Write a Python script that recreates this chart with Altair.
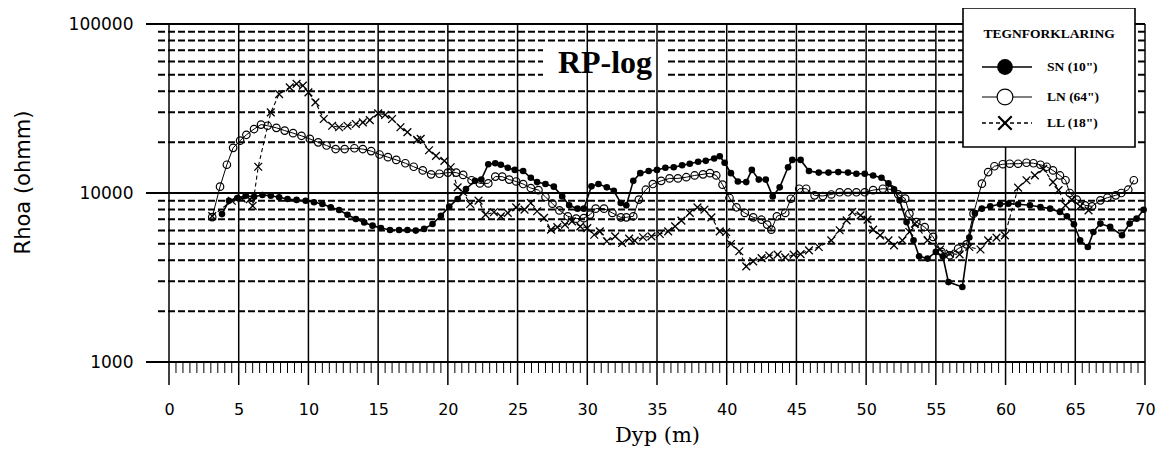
import altair as alt
import pandas as pd

W, H = 976, 338

# ---------------- data ----------------
sn_depth = [3.8, 4.3, 4.9, 5.5, 6.1, 6.7, 7.3, 7.9, 8.5, 9.15, 9.8, 10.4, 11.0, 11.6, 12.2, 12.8,
            13.4, 14.0, 14.6, 15.2, 15.85, 16.5, 17.1, 17.7, 18.3, 18.9, 19.5, 20.1, 20.7, 21.3,
            21.95, 22.4, 22.9, 23.4, 23.8, 24.3, 24.8, 25.4, 25.95, 26.4, 27.0, 27.6, 28.2, 28.7,
            29.3, 29.75, 30.3, 30.8, 31.4, 31.9, 32.4, 32.8, 33.3, 33.8, 34.4, 35.0, 35.6, 36.2,
            36.8, 37.35, 37.95, 38.5, 39.1, 39.5, 39.85, 40.3, 40.8, 41.4, 41.8, 42.3, 42.8, 43.3,
            43.8, 44.4, 44.7, 45.3, 45.9, 46.6, 47.3, 48.0, 48.7, 49.3, 49.9, 50.5, 51.1, 51.6,
            52.0, 52.4, 52.9, 53.4, 53.8, 54.4, 55.0, 55.5, 55.9, 56.9, 57.4, 57.8, 58.3, 58.9,
            59.6, 60.2, 60.9, 61.75, 62.5, 63.2, 63.9, 64.4, 64.9, 65.35, 65.9, 66.3, 66.8, 67.5,
            68.35, 68.9, 69.4, 69.9]
sn_rhoa = [7500, 9000, 9340, 9640, 9500, 9730, 9640, 9430, 9220, 9100, 9000, 8810, 8610, 8230,
           7930, 7440, 7020, 6700, 6410, 6210, 6040, 6040, 6040, 5990, 6130, 6560, 7340, 8300,
           9220, 10560, 11800, 12000, 14800, 15000, 14700, 14100, 13700, 13500, 12300, 11600,
           11300, 10900, 9550, 8450, 8080, 8080, 10950, 11300, 10800, 10300, 8730, 8450, 11800,
           13100, 13500, 13700, 14100, 14200, 14600, 14900, 15300, 15500, 16000, 16500, 15100,
           13100, 11700, 11600, 13700, 12000, 12000, 9550, 10800, 14200, 15700, 15700, 13500,
           13200, 13200, 13300, 13200, 13000, 13000, 12700, 12300, 11400, 10500, 9050, 6730,
           5250, 4220, 4090, 4480, 4220, 2970, 2780, 5450, 7620, 8080, 8340, 8570, 8650, 8570,
           8460, 8260, 8080, 7730, 7280, 6530, 5250, 4790, 5880, 6590, 6300, 5620, 6590, 7050,
           7960]

ln_depth = [3.1, 3.66, 4.15, 4.6, 5.1, 5.55, 6.1, 6.6, 7.07, 7.7, 8.3, 8.9, 9.5, 10.1, 10.7,
            11.3, 11.95, 12.6, 13.3, 13.9, 14.5, 15.1, 15.7, 16.3, 16.95, 17.55, 18.2, 18.8,
            19.4, 20.0, 20.6, 21.1, 21.7, 22.3, 22.9, 23.4, 23.9, 24.4, 24.9, 25.4, 25.95, 26.5,
            27.0, 27.5, 28.0, 28.6, 29.2, 29.75, 30.2, 30.6, 31.2, 31.8, 32.4, 32.8, 33.3, 33.7,
            34.2, 34.7, 35.3, 35.9, 36.5, 37.1, 37.7, 38.3, 38.8, 39.25, 39.7, 40.2, 40.7, 41.3,
            41.9, 42.5, 42.9, 43.2, 43.6, 44.2, 44.6, 45.2, 45.7, 46.3, 46.9, 47.5, 48.1, 48.7,
            49.3, 49.9, 50.5, 51.2, 51.8, 52.3, 52.8, 53.1, 53.6, 54.2, 54.8, 55.4, 56.0, 56.6,
            57.2, 57.7, 58.3, 58.75, 59.2, 59.8, 60.3, 60.9, 61.5, 62.0, 62.5, 62.95, 63.4,
            63.9, 64.3, 64.6, 65.1, 65.7, 66.2, 66.8, 67.3, 67.9, 68.3, 68.8, 69.2]
ln_rhoa = [7200, 10900, 14700, 18500, 20400, 22100, 23900, 25400, 25000, 24300, 23400, 22600,
           21800, 20900, 19950, 19100, 18200, 18200, 18400, 18200, 17700, 16900, 16300, 15700,
           15000, 14300, 13600, 12900, 13000, 13200, 13200, 12800, 11900, 11400, 11400, 12500,
           12500, 12000, 11700, 11300, 10700, 10400, 9470, 8650, 7890, 7280, 7050, 7100, 7450,
           8080, 8080, 7620, 7180, 7180, 7280, 9140, 10460, 11300, 11800, 12200, 12200, 12400,
           12700, 12900, 13100, 12700, 11200, 9340, 8230, 7620, 7180, 6950, 6500, 6070, 7280,
           7620, 9250, 10600, 10600, 9690, 9600, 9800, 10100, 10100, 10100, 10100, 10400, 10600,
           10500, 9820, 9260, 7550, 6730, 6290, 5500, 4480, 4280, 4690, 4970, 7550, 11360,
           13300, 14400, 14800, 14900, 14900, 15100, 15000, 14700, 14300, 13600, 12700, 11900,
           10000, 9140, 8450, 8340, 9050, 9380, 9690, 10000, 10460, 11900]

ll_depth = [3.1, 4.5, 5.2, 5.8, 6.0, 6.4, 7.3, 7.9, 8.66, 9.15, 9.6, 10.0, 10.5, 11.1, 11.7,
            12.2, 12.8, 13.4, 13.9, 14.4, 15.0, 15.5, 16.0, 16.6, 17.1, 17.8, 18.05, 18.65,
            19.15, 19.75, 20.2, 20.7, 21.1, 21.6, 22.2, 22.7, 23.3, 23.8, 24.3, 24.9, 25.5,
            25.95, 26.4, 26.9, 27.4, 27.85, 28.4, 28.9, 29.5, 30.0, 30.5, 30.9, 31.4, 32.0,
            32.5, 33.0, 33.4, 34.0, 34.6, 35.2, 35.8, 36.3, 36.75, 37.35, 37.9, 38.4, 38.9,
            39.5, 39.96, 40.3, 40.9, 41.4, 41.9, 42.5, 43.05, 43.65, 44.2, 44.8, 45.3, 45.9,
            46.6, 47.5, 48.1, 48.6, 49.0, 49.6, 50.1, 50.5, 51.0, 51.6, 52.0, 52.6, 53.1, 53.5,
            54.4, 55.3, 56.0, 56.7, 57.4, 58.2, 58.75, 59.35, 59.95, 60.9, 61.5, 62.1, 62.7,
            63.4, 63.8, 64.3, 64.75, 65.35, 65.95]
ll_rhoa = [7300, 9000, 9300, 9200, 8400, 14300, 30000, 38500, 42200, 44200, 43200, 39400,
           34400, 27400, 25000, 24500, 25000, 25600, 26200, 27000, 29600, 29000, 27400, 24500,
           22900, 20600, 20900, 17900, 16600, 15500, 14200, 10800, 10100, 8610, 9010, 7450,
           7690, 7280, 7620, 8220, 7970, 8730, 7800, 7120, 6070, 6280, 6500, 6800, 6350, 6200,
           5660, 5930, 5180, 5540, 5060, 5370, 5230, 5470, 5540, 5720, 5930, 6350, 6860, 7620,
           8220, 7970, 7180, 5930, 5880, 4990, 4520, 3680, 3940, 4120, 4270, 4320, 4160, 4320,
           4350, 4580, 4790, 5250, 6020, 6890, 7720, 7380, 6950, 6070, 5620, 5250, 4900, 5250,
           5880, 6590, 5250, 4630, 4380, 4330, 4790, 4630, 5250, 5450, 5620, 10750, 11900,
           12700, 13900, 11600, 10400, 8450, 9140, 8340, 7900]

major_y = [1000, 10000, 100000]
minor_y = [2000, 3000, 4000, 5000, 6000, 7000, 8000, 9000,
           20000, 30000, 40000, 50000, 60000, 70000, 80000, 90000]
x_major = [0, 5, 10, 15, 20, 25, 30, 35, 40, 45, 50, 55, 60, 65, 70]
x_minor = [i * 0.5 for i in range(141) if i % 10 != 0]

legend_title = "TEGNFORKLARING"
legend_labels = ['SN (10")', 'LN (64")', 'LL (18")']
chart_label = "RP-log"
x_title = "Dyp (m)"
y_title = "Rhoa (ohmm)"

# ---------------- chart ----------------
xs = alt.Scale(domain=[0, 70], nice=False, zero=False)
ys = alt.Scale(type="log", domain=[1000, 100000], nice=False)
one = pd.DataFrame({"k": [0]})

x_axis = alt.Axis(values=x_major, ticks=False, tickSize=0, domain=False, grid=False,
                  labelFont="DejaVu Sans", labelFontSize=16, labelColor="black",
                  labelPadding=47, labelBaseline="middle", labelFlush=False, labelOverlap=False,
                  title=x_title, titleFont="DejaVu Serif", titleFontSize=21,
                  titleFontWeight="normal", titleColor="black", titleY=79,
                  titleBaseline="alphabetic")
y_axis = alt.Axis(values=major_y, ticks=False, tickSize=0, domain=False, grid=False,
                  format="d", labelFont="DejaVu Sans", labelFontSize=17, labelColor="black",
                  labelPadding=36, labelBaseline="middle", labelOverlap=False, labelFlush=False,
                  title=y_title, titleFont="DejaVu Sans", titleFontSize=21,
                  titleFontWeight="normal", titleColor="black", titleX=-146, titleY=158,
                  titleAngle=270, titleBaseline="middle", titleAlign="center")


def X(field):
    return alt.X(field, scale=xs, axis=x_axis)


def Y(field):
    return alt.Y(field, scale=ys, axis=y_axis)


grid_minor = alt.Chart(pd.DataFrame({"v": minor_y})).mark_rule(
    color="black", strokeWidth=2, strokeDash=[7, 3]).encode(
    y=Y("v:Q"), x=alt.value(-11), x2=alt.value(W))

label_box = alt.Chart(one).mark_rect(color="white").encode(
    x=alt.value(374), x2=alt.value(496), y=alt.value(19), y2=alt.value(61))

vgrid = alt.Chart(pd.DataFrame({"d": x_major})).mark_rule(
    color="black", strokeWidth=1.5).encode(
    x=X("d:Q"), y=alt.value(0), y2=alt.value(H + 23))

xminor = alt.Chart(pd.DataFrame({"d": x_minor})).mark_rule(
    color="black", strokeWidth=1).encode(
    x=X("d:Q"), y=alt.value(H), y2=alt.value(H + 11))

grid_major = alt.Chart(pd.DataFrame({"v": major_y})).mark_rule(
    color="black", strokeWidth=2).encode(
    y=Y("v:Q"), x=alt.value(-23), x2=alt.value(W))

sn_df = pd.DataFrame({"d": sn_depth, "r": sn_rhoa})
ln_df = pd.DataFrame({"d": ln_depth, "r": ln_rhoa})
ll_df = pd.DataFrame({"d": ll_depth, "r": ll_rhoa})


def enc(ch):
    return ch.encode(x=X("d:Q"), y=Y("r:Q"))


xpath = "M -1 -1 L 1 1 M -1 1 L 1 -1"

ll_line = enc(alt.Chart(ll_df).mark_line(color="black", strokeWidth=1.1, strokeDash=[4, 3]))
ll_pts = enc(alt.Chart(ll_df).mark_point(shape=xpath, size=60, filled=False, color="black",
                                         strokeWidth=1.3, opacity=1))
ln_line = enc(alt.Chart(ln_df).mark_line(color="black", strokeWidth=1))
ln_pts = enc(alt.Chart(ln_df).mark_point(shape="circle", size=56, filled=False, color="black",
                                         strokeWidth=1.2, opacity=1))
sn_line = enc(alt.Chart(sn_df).mark_line(color="black", strokeWidth=1.6))
sn_pts = enc(alt.Chart(sn_df).mark_point(shape="circle", size=44, filled=True, color="black",
                                         opacity=1))

# legend box
lx0, lx1, ly0, ly1 = 794, 966, -16, 123
leg_box = alt.Chart(one).mark_rect(fill="white", stroke="black", strokeWidth=1.6).encode(
    x=alt.value(lx0), x2=alt.value(lx1), y=alt.value(ly0), y2=alt.value(ly1))
leg_title = alt.Chart(one).mark_text(text=legend_title, font="Liberation Serif", fontSize=13.5,
                                     fontWeight="bold", align="center", baseline="middle",
                                     color="black").encode(x=alt.value(880), y=alt.value(10))
rows_y = [43, 73, 99]
leg_layers = []
# SN row
leg_layers.append(alt.Chart(one).mark_rule(color="black", strokeWidth=1.6).encode(
    x=alt.value(813), x2=alt.value(863), y=alt.value(rows_y[0])))
leg_layers.append(alt.Chart(one).mark_point(shape="circle", size=250, filled=True, color="black",
                                            opacity=1).encode(x=alt.value(836), y=alt.value(rows_y[0])))
# LN row
leg_layers.append(alt.Chart(one).mark_rule(color="black", strokeWidth=1.2).encode(
    x=alt.value(813), x2=alt.value(863), y=alt.value(rows_y[1])))
leg_layers.append(alt.Chart(one).mark_point(shape="circle", size=250, filled=True, fill="white",
                                            stroke="black", strokeWidth=1.2, opacity=1).encode(
    x=alt.value(836), y=alt.value(rows_y[1])))
# LL row
leg_layers.append(alt.Chart(one).mark_rule(color="black", strokeWidth=1.3, strokeDash=[4, 3]).encode(
    x=alt.value(813), x2=alt.value(863), y=alt.value(rows_y[2])))
leg_layers.append(alt.Chart(one).mark_point(shape=xpath, size=180, filled=False, color="black",
                                            strokeWidth=2.2, opacity=1).encode(
    x=alt.value(836), y=alt.value(rows_y[2])))
for lab, yy in zip(legend_labels, rows_y):
    leg_layers.append(alt.Chart(one).mark_text(text=lab, font="Liberation Serif", fontSize=13.5,
                                               fontWeight="bold", align="left", baseline="middle",
                                               color="black").encode(
        x=alt.value(878), y=alt.value(yy)))

rp_text = alt.Chart(one).mark_text(text=chart_label, font="Liberation Serif", fontSize=32,
                                   fontWeight="bold", align="center", baseline="alphabetic",
                                   color="black").encode(x=alt.value(436), y=alt.value(49))

chart = alt.layer(
    grid_minor, label_box, vgrid, xminor, grid_major,
    ll_line, ln_line, sn_line, ll_pts, ln_pts, sn_pts,
    leg_box, leg_title, *leg_layers, rp_text
).properties(
    width=W, height=H,
    autosize=alt.AutoSizeParams(type="none"),
    padding={"left": 161, "top": 16, "right": 18, "bottom": 86},
    background="white",
).configure_view(stroke=None)

chart.save("out.html", embed_options={"renderer": "svg", "actions": False})
